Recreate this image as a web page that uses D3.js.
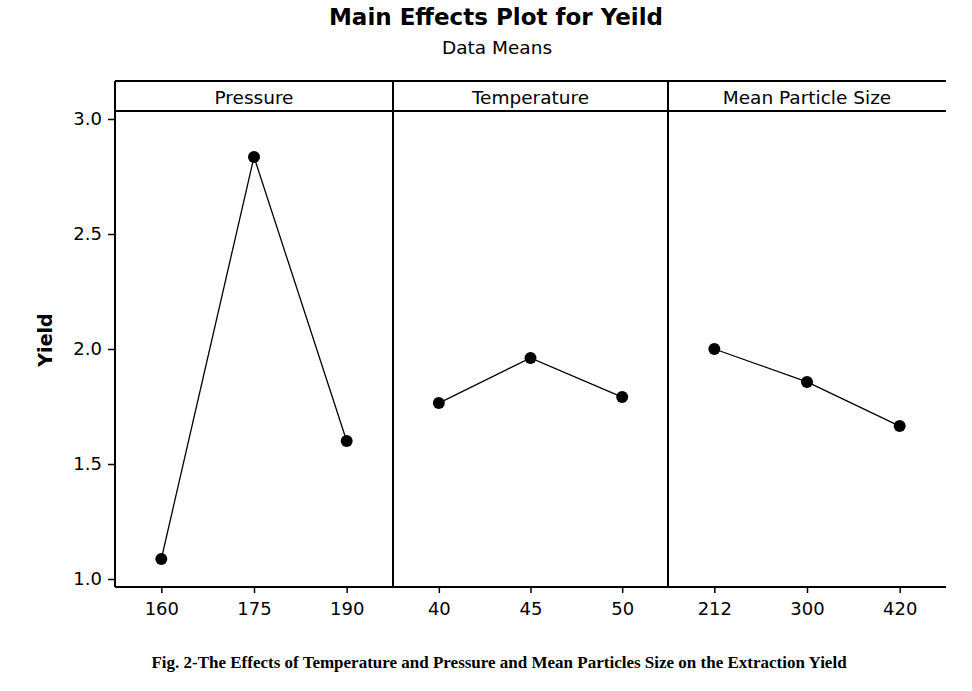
<!DOCTYPE html>
<html>
<head>
<meta charset="utf-8">
<script src="https://cdn.jsdelivr.net/npm/d3@7"></script>
<style>
  body { margin: 0; background: #fff; }
  svg text { font-family: "DejaVu Sans", Verdana, sans-serif; fill: #000; }
</style>
</head>
<body>
<svg id="chart" width="972" height="691"></svg>
<script>

const factors = ["Pressure", "Temperature", "Mean Particle Size"];

const pressureLevels = ["160", "175", "190"];
const pressureMeans = [1.087, 2.835, 1.600];

const temperatureLevels = ["40", "45", "50"];
const temperatureMeans = [1.765, 1.961, 1.791];

const sizeLevels = ["212", "300", "420"];
const sizeMeans = [2.000, 1.857, 1.665];

const yTicks = [1.0, 1.5, 2.0, 2.5, 3.0];

const panels = [
  { name: factors[0], levels: pressureLevels, means: pressureMeans },
  { name: factors[1], levels: temperatureLevels, means: temperatureMeans },
  { name: factors[2], levels: sizeLevels, means: sizeMeans }
];

const svg = d3.select("#chart");

const plotLeft = 115;
const plotRight = 946;
const plotTop = 81;
const stripH = 30;
const plotBottom = 587;
const dividers = [plotLeft, 393, 668, plotRight];

const y =
  d3.scaleLinear()
    .domain([1.0, 3.0])
    .range([579, 119]);

// titles
svg.append("text")
  .attr("x", 496)
  .attr("y", 25)
  .attr("text-anchor", "middle")
  .style("font-size", "23px")
  .style("font-weight", "bold")
  .text("Main Effects Plot for Yeild");

svg.append("text")
  .attr("x", 497)
  .attr("y", 54)
  .attr("text-anchor", "middle")
  .style("font-size", "18.5px")
  .text("Data Means");

// y axis
svg.append("g")
  .attr("transform", `translate(${plotLeft},0)`)
  .call(
    d3.axisLeft(y)
      .tickValues(yTicks)
      .tickFormat(d3.format(".1f"))
      .tickSize(7)
      .tickPadding(6)
  )
  .call(g => g.select(".domain").remove())
  .call(g => g.selectAll("line").attr("stroke", "#000").attr("stroke-width", 1.5))
  .call(g => g.selectAll("text").style("font-size", "18px").style("font-family", "DejaVu Sans"));

svg.append("text")
  .attr("transform", "translate(52,340) rotate(-90)")
  .attr("text-anchor", "middle")
  .style("font-size", "19px")
  .style("font-weight", "bold")
  .text("Yield");

const frame = svg.append("g")
  .attr("stroke", "#000")
  .attr("fill", "none");

panels.forEach((p, i) => {

  const x0 = dividers[i];
  const x1 = dividers[i + 1];

  const x =
    d3.scalePoint()
      .domain(p.levels)
      .range([x0, x1])
      .padding(0.5);

  svg.append("text")
    .attr("x", (x0 + x1) / 2)
    .attr("y", plotTop + 23)
    .attr("text-anchor", "middle")
    .style("font-size", "18.5px")
    .text(p.name);

  svg.append("g")
    .attr("transform", `translate(0,${plotBottom})`)
    .call(
      d3.axisBottom(x)
        .tickSize(6)
        .tickPadding(9)
    )
    .call(g => g.select(".domain").remove())
    .call(g => g.selectAll("line").attr("stroke", "#000").attr("stroke-width", 1.5))
    .call(g => g.selectAll("text").style("font-size", "18px").style("font-family", "DejaVu Sans"));

  const pts = p.levels.map((l, j) => [x(l), y(p.means[j])]);

  svg.append("path")
    .attr("d", d3.line()(pts))
    .attr("fill", "none")
    .attr("stroke", "#000")
    .attr("stroke-width", 1.3);

  svg.append("g")
    .selectAll("circle")
    .data(pts)
    .enter()
    .append("circle")
    .attr("cx", d => d[0])
    .attr("cy", d => d[1])
    .attr("r", 6)
    .attr("fill", "#000");

  if (i > 0) {
    frame.append("line")
      .attr("x1", x0).attr("x2", x0)
      .attr("y1", plotTop).attr("y2", plotBottom)
      .attr("stroke-width", 2);
  }
});

frame.append("line")
  .attr("x1", plotLeft).attr("x2", plotLeft)
  .attr("y1", plotTop).attr("y2", plotBottom)
  .attr("stroke-width", 2);

frame.append("line")
  .attr("x1", plotLeft).attr("x2", plotRight)
  .attr("y1", plotTop).attr("y2", plotTop)
  .attr("stroke-width", 2);

frame.append("line")
  .attr("x1", plotLeft).attr("x2", plotRight)
  .attr("y1", plotTop + stripH).attr("y2", plotTop + stripH)
  .attr("stroke-width", 2);

frame.append("line")
  .attr("x1", plotLeft).attr("x2", plotRight)
  .attr("y1", plotBottom).attr("y2", plotBottom)
  .attr("stroke-width", 2);

// caption
svg.append("text")
  .attr("x", 499)
  .attr("y", 668)
  .attr("text-anchor", "middle")
  .style("font-family", "'Liberation Serif', 'Times New Roman', serif")
  .style("font-size", "17px")
  .style("font-weight", "bold")
  .text("Fig. 2-The Effects of Temperature and Pressure and Mean Particles Size on the Extraction Yield");

</script>
</body>
</html>
